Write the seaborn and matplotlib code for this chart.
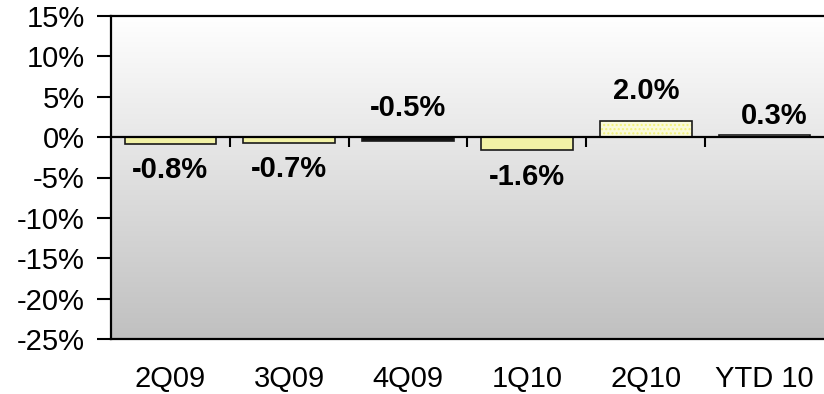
import numpy as np
import pandas as pd
import matplotlib
matplotlib.use("Agg")
import matplotlib.pyplot as plt
from matplotlib.colors import LinearSegmentedColormap
import seaborn as sns

# Quarterly change values
periods = ["2Q09", "3Q09", "4Q09", "1Q10", "2Q10", "YTD 10"]
changes = [-0.8, -0.7, -0.5, -1.6, 2.0, 0.3]
value_labels = ["-0.8%", "-0.7%", "-0.5%", "-1.6%", "2.0%", "0.3%"]
y_ticks = [-25, -20, -15, -10, -5, 0, 5, 10, 15]

# Bar styling
fill_colors = ["#FFFF99", "#FFFF99", "#111111", "#FFFF99", "#FFFFD6", "#FFFFF4"]
hatch_styles = ["", "", "", "", "....", "...."]
hatch_colors = ["#FFFF99", "#FFFF99", "#111111", "#FFFF99", "#F2F27A", "#F4F4B0"]
# label offsets from the bar end, in pixels (dx, dy)
label_offsets = [(0, -26), (0, -26), (0, 33), (0, -27), (0, 30), (10, 19)]

sns.set_theme(style="white")
plt.rcParams["font.family"] = ["Liberation Sans", "DejaVu Sans"]
plt.rcParams["hatch.linewidth"] = 1.0

fig = plt.figure(figsize=(8.24, 3.94), dpi=100)
ax = fig.add_axes([111 / 824, 55 / 394, 713 / 824, 323 / 394])

# vertical background gradient
bg = LinearSegmentedColormap.from_list("bg", ["#FFFFFF", "#C0C0C0"])
ax.imshow(np.linspace(0, 1, 256).reshape(-1, 1), cmap=bg, aspect="auto",
          extent=[0, 1, 0, 1], transform=ax.transAxes, zorder=0)

df = pd.DataFrame({"period": periods, "change": changes})

sns.barplot(data=df, x="period", y="change", hue="period", palette=fill_colors,
            width=0.77, linewidth=0, legend=False, ax=ax, zorder=2)
for patch, h, hc in zip(ax.patches, hatch_styles, hatch_colors):
    patch.set_hatch(h)
    patch.set_edgecolor(hc)
    patch.set_linewidth(0)

n_fill = len(ax.patches)
sns.barplot(data=df, x="period", y="change", fill=False, color="#1a1a1a",
            width=0.77, linewidth=1.2, ax=ax, zorder=3)

for patch, val, lab, (dx, dy) in zip(ax.patches[:n_fill], changes, value_labels, label_offsets):
    ax.annotate(lab, xy=(patch.get_x() + patch.get_width() / 2, val),
                xytext=(dx, dy), textcoords="offset pixels",
                ha="center", va="center", fontsize=21, fontweight="bold",
                color="black", zorder=5)

ax.set_xlim(-0.5, len(periods) - 0.5)
ax.set_ylim(y_ticks[0], y_ticks[-1])
ax.set_yticks(y_ticks)
ax.set_yticklabels([f"{v}%" for v in y_ticks])
ax.set_xlabel("")
ax.set_ylabel("")
ax.tick_params(axis="x", length=0, pad=19, labelsize=21, colors="black")
ax.tick_params(axis="y", direction="out", length=10, width=1.5, pad=9,
               labelsize=21, colors="black", left=True)
for side in ["left", "bottom", "top"]:
    ax.spines[side].set_color("black")
    ax.spines[side].set_linewidth(1.6)
ax.spines["right"].set_visible(False)

# category axis crossing at zero, with ticks between categories
ax2 = ax.twiny()
ax2.set_xlim(ax.get_xlim())
for side in ["left", "right", "top"]:
    ax2.spines[side].set_visible(False)
ax2.spines["bottom"].set_position(("data", 0))
ax2.spines["bottom"].set_color("black")
ax2.spines["bottom"].set_linewidth(1.6)
ax2.xaxis.set_ticks_position("bottom")
ax2.set_xticks(np.arange(len(periods) - 1) + 0.5)
ax2.tick_params(axis="x", direction="out", length=7, width=1.5, colors="black",
                labelbottom=False, labeltop=False, bottom=True, top=False)

fig.savefig("out.png", dpi=100)
